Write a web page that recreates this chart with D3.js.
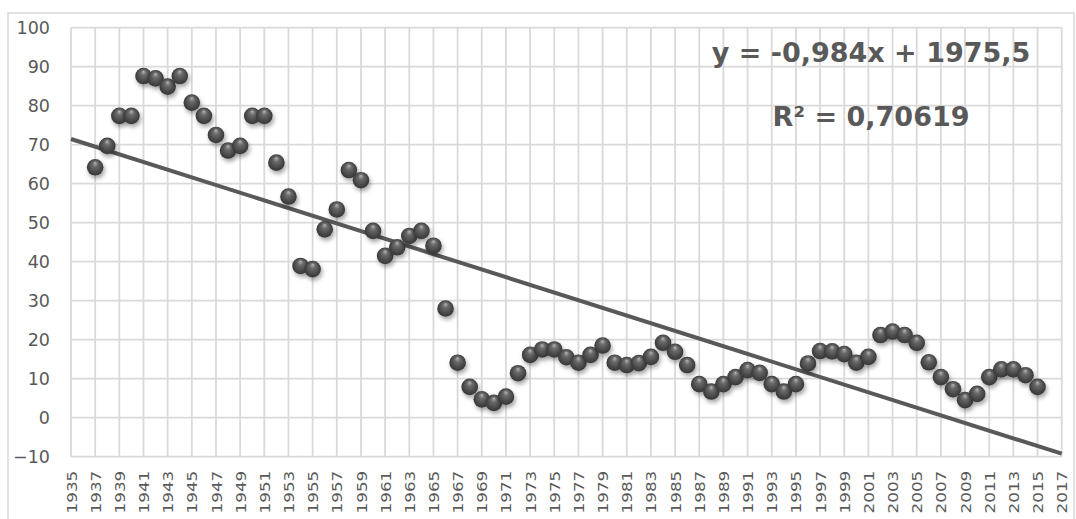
<!DOCTYPE html>
<html>
<head>
<meta charset="utf-8">
<script src="https://cdn.jsdelivr.net/npm/d3@7"></script>
<style>
  html, body { margin: 0; padding: 0; background: #fff; }
  svg { display: block; }
</style>
</head>
<body>
<svg id="chart" width="1076" height="519"></svg>
<script>
// ---- data ----
const years = [1937,1938,1939,1940,1941,1942,1943,1944,1945,1946,1947,1948,1949,1950,
  1951,1952,1953,1954,1955,1956,1957,1958,1959,1960,1961,1962,1963,1964,1965,1966,
  1967,1968,1969,1970,1971,1972,1973,1974,1975,1976,1977,1978,1979,1980,1981,1982,
  1983,1984,1985,1986,1987,1988,1989,1990,1991,1992,1993,1994,1995,1996,1997,1998,
  1999,2000,2001,2002,2003,2004,2005,2006,2007,2008,2009,2010,2011,2012,2013,2014,2015];
const values = [64.2,69.7,77.4,77.4,87.6,87.0,84.9,87.6,80.8,77.4,72.5,68.5,69.7,77.4,
  77.4,65.4,56.7,38.9,38.1,48.3,53.4,63.5,60.9,47.9,41.5,43.7,46.6,47.9,44.1,28.0,
  14.1,7.9,4.7,3.8,5.4,11.4,16.1,17.5,17.5,15.5,14.1,16.1,18.5,14.1,13.5,14.0,
  15.6,19.2,16.9,13.5,8.6,6.7,8.6,10.4,12.2,11.5,8.6,6.7,8.6,13.9,17.1,17.0,
  16.3,14.1,15.6,21.2,22.1,21.2,19.2,14.2,10.4,7.3,4.5,6.1,10.4,12.4,12.4,10.9,7.9];
const xTicks = d3.range(1935, 2018, 2);
const yTicks = [-10,0,10,20,30,40,50,60,70,80,90,100];
const trendSlope = -0.984;
const trendIntercept = 1975.5;
const trendLabel = "y = -0,984x + 1975,5";
const r2Label = "R\u00b2 = 0,70619";

// ---- layout ----
const svg = d3.select("#chart");
const pLeft = 71, pRight = 1061.7, pTop = 27.7, pBottom = 456.7;
const x = d3.scaleLinear().domain([1935, 2017]).range([pLeft, pRight]);
const y = d3.scaleLinear().domain([-10, 100]).range([pBottom, pTop]);
const grey = "#595959";

// outer border
svg.append("rect").attr("x", 8).attr("y", 13).attr("width", 1066).attr("height", 540)
  .attr("fill", "none").attr("stroke", "#d9d9d9").attr("stroke-width", 1.5);

// defs
const defs = svg.append("defs");
const grad = defs.append("radialGradient").attr("id", "ball")
  .attr("cx", "50%").attr("cy", "50%").attr("r", "55%")
  .attr("fx", "50%").attr("fy", "22%");
grad.append("stop").attr("offset", "0%").attr("stop-color", "#b5b5b5");
grad.append("stop").attr("offset", "30%").attr("stop-color", "#6a6a6a");
grad.append("stop").attr("offset", "75%").attr("stop-color", "#444");
grad.append("stop").attr("offset", "100%").attr("stop-color", "#333");
const f = defs.append("filter").attr("id", "shadow").attr("x", "-50%").attr("y", "-50%")
  .attr("width", "200%").attr("height", "200%");
f.append("feDropShadow").attr("dx", 1.5).attr("dy", 3).attr("stdDeviation", 2)
  .attr("flood-color", "#000").attr("flood-opacity", 0.35);

// gridlines
svg.append("g").selectAll("line").data(yTicks).join("line")
  .attr("x1", pLeft).attr("x2", pRight)
  .attr("y1", d => y(d)).attr("y2", d => y(d))
  .attr("stroke", "#d9d9d9").attr("stroke-width", 1.8);
svg.append("g").selectAll("line").data(xTicks).join("line")
  .attr("x1", d => x(d)).attr("x2", d => x(d))
  .attr("y1", pTop).attr("y2", pBottom)
  .attr("stroke", "#d9d9d9").attr("stroke-width", 1.8);

// y axis labels
const yAxis = d3.axisLeft(y).tickValues(yTicks).tickSize(0).tickPadding(0);
const gy = svg.append("g").attr("transform", `translate(${pLeft - 21},0)`).call(yAxis);
gy.select(".domain").remove();
gy.selectAll("text").attr("font-family", "DejaVu Sans, Verdana, sans-serif")
  .attr("font-size", 17.5).attr("fill", grey).attr("dy", "0.35em");

// x axis labels
const xAxis = d3.axisBottom(x).tickValues(xTicks).tickSize(0).tickFormat(d3.format("d"));
const gx = svg.append("g").attr("transform", `translate(0,${pBottom})`).call(xAxis);
gx.select(".domain").remove();
gx.selectAll("text")
  .attr("font-family", "DejaVu Sans, Verdana, sans-serif")
  .attr("font-size", 14).attr("fill", grey)
  .attr("text-anchor", "end").attr("dy", "0.36em").attr("y", 0)
  .attr("transform", "translate(0,14) rotate(-90) scale(1.2,1)");

// trend line
svg.append("line")
  .attr("x1", x(1935)).attr("y1", y(trendSlope * 1935 + trendIntercept))
  .attr("x2", x(2017)).attr("y2", y(trendSlope * 2017 + trendIntercept))
  .attr("stroke", grey).attr("stroke-width", 4);

// points
svg.append("g").selectAll("circle").data(years.map((yr, i) => [yr, values[i]])).join("circle")
  .attr("cx", d => x(d[0])).attr("cy", d => y(d[1])).attr("r", 8.3)
  .attr("fill", "url(#ball)").attr("filter", "url(#shadow)");

// equation labels
svg.append("text").attr("x", 871).attr("y", 62).attr("text-anchor", "middle")
  .attr("font-family", "DejaVu Sans, Verdana, sans-serif").attr("font-weight", "bold")
  .attr("font-size", 27).attr("fill", grey).text(trendLabel);
svg.append("text").attr("x", 871).attr("y", 126).attr("text-anchor", "middle")
  .attr("font-family", "DejaVu Sans, Verdana, sans-serif").attr("font-weight", "bold")
  .attr("font-size", 27).attr("fill", grey).text(r2Label);
</script>
</body>
</html>
